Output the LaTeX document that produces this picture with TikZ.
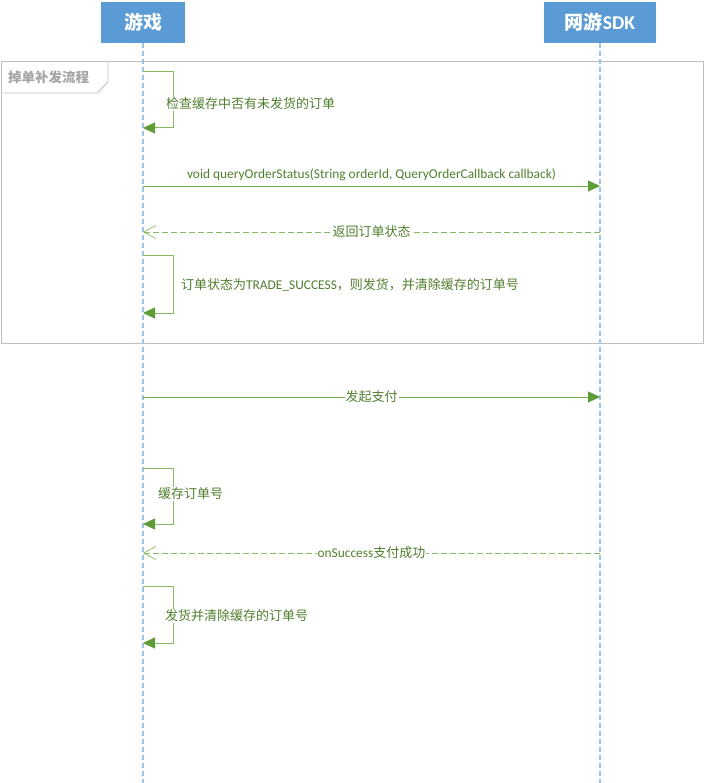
\documentclass[tikz,border=0pt]{standalone}
\usepackage{fontspec}
\setmainfont{Carlito}[Scale=1.03]
\newfontfamily\cjk{Noto Sans CJK SC}
\usetikzlibrary{positioning,arrows.meta}

\definecolor{headblue}{HTML}{5B9BD5}
\definecolor{lifeblue}{HTML}{9DC3E6}
\definecolor{msggreen}{HTML}{70AD47}
\definecolor{tipgreen}{HTML}{5E9C38}
\definecolor{textgreen}{HTML}{507E2E}
\definecolor{framegray}{HTML}{BFBFBF}
\definecolor{titlegray}{HTML}{A5A5A5}

\tikzset{
  actor/.style={rectangle, fill=headblue, text=white, minimum height=41pt, inner sep=0pt,
    font=\bfseries\fontsize{19}{22}\selectfont},
  lifeline/.style={lifeblue, line width=1.2pt, dash pattern=on 5pt off 3pt},
  call/.style={msggreen, line width=0.9pt,
    -{Triangle[length=12pt, width=11pt, color=tipgreen, fill=tipgreen]}},
  reply/.style={msggreen!85, line width=0.9pt, dash pattern=on 6pt off 3pt,
    -{Straight Barb[length=12pt, width=13pt, line width=0.7pt]}},
  selfcall/.style={msggreen!85, line width=1pt,
    -{Triangle[length=12pt, width=11pt, color=tipgreen, fill=tipgreen]}},
  msg/.style={text=textgreen, fill=white, inner sep=1pt,
    font=\fontsize{13}{15}\selectfont},
}

\begin{document}
\begin{tikzpicture}[x=1pt, y=-1pt]
  \useasboundingbox (0,0) rectangle (705,783);

  % Frame
  \draw[framegray, line width=0.9pt] (1,61) rectangle (703,343);
  \draw[framegray, line width=0.9pt] (1,93) -- (97,93) -- (108,82) -- (108,61);
  \node[anchor=west, text=titlegray, inner sep=0pt, font=\bfseries\fontsize{13.5}{15}\selectfont]
    (frameTitle) at (8,77) {\cjk 掉单补发流程};

  % Actors
  \node[actor, minimum width=84pt] (game) at (143,22.5) {\cjk 游戏};
  \node[actor, minimum width=112pt] (sdk) at (600,22.5) {{\cjk 网游}SDK};
  \coordinate (gameEnd) at (143,783);
  \coordinate (sdkEnd) at (600,783);
  \draw[lifeline] (game.south) -- (gameEnd);
  \draw[lifeline] (sdk.south) -- (sdkEnd);

  % Message levels on the lifelines
  \foreach \n/\y in {a/72, b/128, c/186, d/232, e/256, f/313,
                     g/397, h/468, i/524, j/553, k/586, l/643} {
    \coordinate (g\n) at (143,\y);
    \coordinate (s\n) at (600,\y);
  }

  % Messages
  \draw[selfcall] (ga) -- ++(30,0) |- (gb);
  \node[msg, anchor=west] (checkCache) at (165,104) {\cjk 检查缓存中否有未发货的订单};

  \draw[call] (gc) -- node[msg, above=4pt, fill=none] (queryStatus)
    {void queryOrderStatus(String orderId, QueryOrderCallback callback)} (sc);
  \draw[reply] (sd) -- node[msg] (orderStatus) {\cjk 返回订单状态} (gd);

  \draw[selfcall] (ge) -- ++(30,0) |- (gf);
  \node[msg, anchor=west] (deliverCheck) at (180,285)
    {{\cjk 订单状态为}TRADE\_SUCCESS{\cjk ，则发货，并清除缓存的订单号}};

  \draw[call] (gg) -- node[msg] (startPay) {\cjk 发起支付} (sg);

  \draw[selfcall] (gh) -- ++(30,0) |- (gi);
  \node[msg, anchor=west] (cacheOrder) at (157,494) {\cjk 缓存订单号};

  \draw[reply] (sj) -- node[msg] (paySuccess) {onSuccess{\cjk 支付成功}} (gj);

  \draw[selfcall] (gk) -- ++(30,0) |- (gl);
  \node[msg, anchor=west] (deliverClear) at (164,616) {\cjk 发货并清除缓存的订单号};
\end{tikzpicture}
\end{document}
